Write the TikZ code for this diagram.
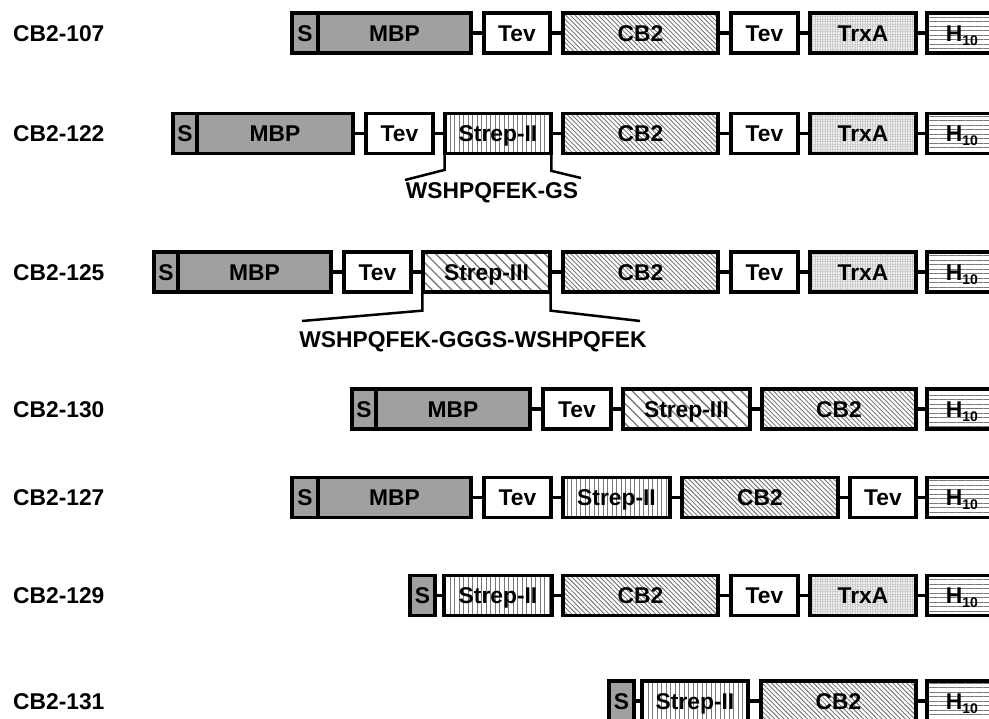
\documentclass[tikz,border=0pt]{standalone}
\usepackage{fontspec}
\setmainfont{Liberation Sans}
\usetikzlibrary{patterns.meta}
\definecolor{mbpgray}{RGB}{160,160,160}
\definecolor{hatchgray}{RGB}{120,120,120}
\tikzset{
  blk/.style={draw=black, line width=3.5pt, inner sep=0pt, minimum height=40pt,
    font=\fontsize{22.8}{24}\selectfont\bfseries, text height=16.3pt, text depth=0pt},
  sbox/.style={fill=mbpgray},
  mbp/.style={fill=mbpgray},
  tev/.style={fill=white},
  cbt/.style={preaction={fill=white}, pattern={Lines[angle=-45,distance=3.3pt,line width=0.9pt]}, pattern color=hatchgray},
  strthree/.style={preaction={fill=white}, pattern={Lines[angle=-45,distance=7pt,line width=1.3pt]}, pattern color=hatchgray},
  strtwo/.style={preaction={fill=white}, pattern={Lines[angle=90,distance=4.5pt,line width=0.8pt]}, pattern color=hatchgray},
  his/.style={preaction={fill=white}, pattern={Lines[angle=0,distance=4.5pt,line width=0.8pt]}, pattern color=hatchgray},
  trx/.style={preaction={fill=gray!10}, pattern={Hatch[angle=0,distance=2.5pt,line width=0.45pt]}, pattern color=gray!40},
  link/.style={line width=3.5pt},
  brk/.style={line width=2.5pt},
  lbl/.style={anchor=west, inner sep=0pt, font=\fontsize{22.8}{24}\selectfont\bfseries, text height=16.3pt, text depth=0pt},
  seq/.style={inner sep=0pt, font=\fontsize{22.8}{24}\selectfont\bfseries, text height=16.3pt, text depth=0pt}
}
\newcommand\bx[6]{\node[blk,#5,minimum width={(#3-#2)*1pt}] (#1) at ({(#2+#3)/2},#4) {#6};}
\newcommand\htext{H\raisebox{-4pt}{\fontsize{14}{14}\selectfont 10}}
\begin{document}
\begin{tikzpicture}[x=1pt,y=-1pt]
\clip (0,0) rectangle (989,719);
\fill[white] (0,0) rectangle (989,719);
% Row 1: CB2-107
\node[lbl] (l1) at (13,33) {CB2-107};
\bx{a1}{292}{318}{33}{sbox}{S}
\bx{a2}{318}{471}{33}{mbp}{MBP}
\bx{a3}{484}{550}{33}{tev}{Tev}
\bx{a4}{563}{718}{33}{cbt}{CB2}
\bx{a5}{731}{798}{33}{tev}{Tev}
\bx{a6}{810}{916}{33}{trx}{TrxA}
\bx{a7}{927}{997}{33}{his}{\htext}
\draw[link] (a2.east) -- (a3.west);
\draw[link] (a3.east) -- (a4.west);
\draw[link] (a4.east) -- (a5.west);
\draw[link] (a5.east) -- (a6.west);
\draw[link] (a6.east) -- (a7.west);
% Row 2: CB2-122
\node[lbl] (l2) at (13,133.5) {CB2-122};
\bx{b1}{173}{197}{133.5}{sbox}{S}
\bx{b2}{197}{353}{133.5}{mbp}{MBP}
\bx{b3}{366}{433}{133.5}{tev}{Tev}
\bx{b4}{445}{551}{133.5}{strtwo}{Strep-II}
\bx{b5}{563}{718}{133.5}{cbt}{CB2}
\bx{b6}{731}{798}{133.5}{tev}{Tev}
\bx{b7}{810}{916}{133.5}{trx}{TrxA}
\bx{b8}{927}{997}{133.5}{his}{\htext}
\draw[link] (b2.east) -- (b3.west);
\draw[link] (b3.east) -- (b4.west);
\draw[link] (b4.east) -- (b5.west);
\draw[link] (b5.east) -- (b6.west);
\draw[link] (b6.east) -- (b7.west);
\draw[link] (b7.east) -- (b8.west);
\coordinate (b4l) at (405,180);
\coordinate (b4r) at (581,178);
\draw[brk] (b4.south west) -- ++(0,16) -- (b4l);
\draw[brk] (b4.south east) -- ++(0,17) -- (b4r);
\node[seq] (s2) at (492,190) {WSHPQFEK-GS};
% Row 3: CB2-125
\node[lbl] (l3) at (13,272) {CB2-125};
\bx{c1}{154}{178}{272}{sbox}{S}
\bx{c2}{178}{331}{272}{mbp}{MBP}
\bx{c3}{344}{411}{272}{tev}{Tev}
\bx{c4}{423}{550}{272}{strthree}{Strep-III}
\bx{c5}{563}{718}{272}{cbt}{CB2}
\bx{c6}{731}{798}{272}{tev}{Tev}
\bx{c7}{810}{916}{272}{trx}{TrxA}
\bx{c8}{927}{997}{272}{his}{\htext}
\draw[link] (c2.east) -- (c3.west);
\draw[link] (c3.east) -- (c4.west);
\draw[link] (c4.east) -- (c5.west);
\draw[link] (c5.east) -- (c6.west);
\draw[link] (c6.east) -- (c7.west);
\draw[link] (c7.east) -- (c8.west);
\coordinate (c4l) at (302,321);
\coordinate (c4r) at (640,321);
\draw[brk] (c4.south west) -- ++(0,18) -- (c4l);
\draw[brk] (c4.south east) -- ++(0,18) -- (c4r);
\node[seq] (s3) at (473,339) {WSHPQFEK-GGGS-WSHPQFEK};
% Row 4: CB2-130
\node[lbl] (l4) at (13,409) {CB2-130};
\bx{d1}{352}{376}{409}{sbox}{S}
\bx{d2}{376}{530}{409}{mbp}{MBP}
\bx{d3}{543}{611}{409}{tev}{Tev}
\bx{d4}{623}{750}{409}{strthree}{Strep-III}
\bx{d5}{762}{916}{409}{cbt}{CB2}
\bx{d6}{927}{997}{409}{his}{\htext}
\draw[link] (d2.east) -- (d3.west);
\draw[link] (d3.east) -- (d4.west);
\draw[link] (d4.east) -- (d5.west);
\draw[link] (d5.east) -- (d6.west);
% Row 5: CB2-127
\node[lbl] (l5) at (13,497.5) {CB2-127};
\bx{e1}{292}{318}{497.5}{sbox}{S}
\bx{e2}{318}{471}{497.5}{mbp}{MBP}
\bx{e3}{484}{551}{497.5}{tev}{Tev}
\bx{e4}{563}{670}{497.5}{strtwo}{Strep-II}
\bx{e5}{682}{838}{497.5}{cbt}{CB2}
\bx{e6}{850}{916}{497.5}{tev}{Tev}
\bx{e7}{927}{997}{497.5}{his}{\htext}
\draw[link] (e2.east) -- (e3.west);
\draw[link] (e3.east) -- (e4.west);
\draw[link] (e4.east) -- (e5.west);
\draw[link] (e5.east) -- (e6.west);
\draw[link] (e6.east) -- (e7.west);
% Row 6: CB2-129
\node[lbl] (l6) at (13,595.5) {CB2-129};
\bx{f1}{410}{435}{595.5}{sbox}{S}
\bx{f2}{444}{552}{595.5}{strtwo}{Strep-II}
\bx{f3}{563}{718}{595.5}{cbt}{CB2}
\bx{f4}{731}{798}{595.5}{tev}{Tev}
\bx{f5}{810}{916}{595.5}{trx}{TrxA}
\bx{f6}{927}{997}{595.5}{his}{\htext}
\draw[link] (f1.east) -- (f2.west);
\draw[link] (f2.east) -- (f3.west);
\draw[link] (f3.east) -- (f4.west);
\draw[link] (f4.east) -- (f5.west);
\draw[link] (f5.east) -- (f6.west);
% Row 7: CB2-131
\node[lbl] (l7) at (13,701) {CB2-131};
\bx{g1}{609}{634}{701}{sbox}{S}
\bx{g2}{642}{748}{701}{strtwo}{Strep-II}
\bx{g3}{761}{916}{701}{cbt}{CB2}
\bx{g4}{927}{997}{701}{his}{\htext}
\draw[link] (g1.east) -- (g2.west);
\draw[link] (g2.east) -- (g3.west);
\draw[link] (g3.east) -- (g4.west);
\end{tikzpicture}
\end{document}
